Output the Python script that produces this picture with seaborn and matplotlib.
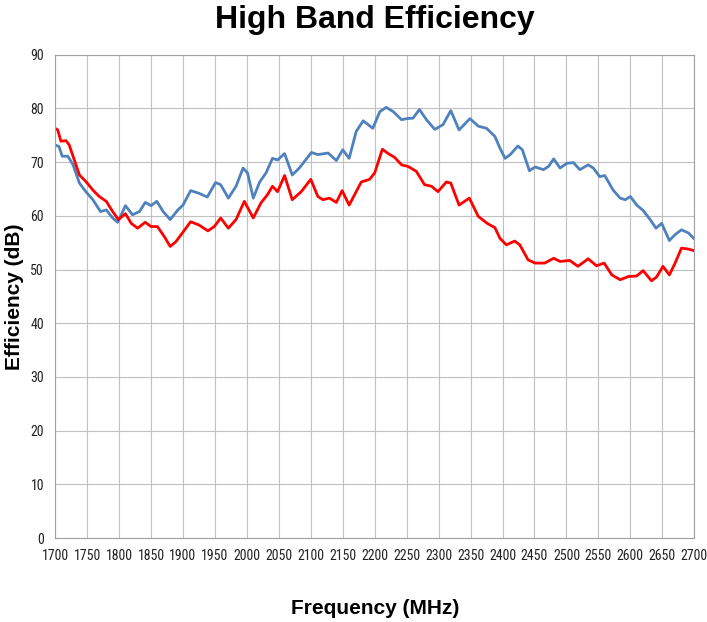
import matplotlib
matplotlib.use('Agg')
import matplotlib.pyplot as plt
from matplotlib import font_manager
import seaborn as sns
import pandas as pd

# values
freq_blue = [1700, 1706, 1711, 1720, 1728, 1738, 1748, 1759, 1771, 1780, 1790, 1798,
             1810, 1821, 1832, 1841, 1850, 1859, 1869, 1880, 1892, 1900, 1912, 1925,
             1938, 1951, 1959, 1971, 1983, 1994, 2001, 2010, 2020, 2030, 2040, 2048,
             2059, 2071, 2082, 2101, 2111, 2127, 2140, 2150, 2160, 2171, 2182, 2197,
             2208, 2218, 2229, 2242, 2250, 2260, 2270, 2281, 2294, 2307, 2319, 2332,
             2349, 2362, 2375, 2388, 2396, 2404, 2412, 2424, 2431, 2442, 2451, 2464,
             2472, 2480, 2490, 2501, 2511, 2521, 2534, 2542, 2552, 2560, 2573, 2584,
             2592, 2600, 2610, 2620, 2631, 2640, 2649, 2661, 2670, 2680, 2691, 2700]
eff_blue = [73.2, 72.9, 71.1, 71.1, 69.5, 66.1, 64.5, 63.0, 60.8, 61.1, 59.6, 58.8,
            61.9, 60.2, 60.8, 62.5, 61.9, 62.7, 60.8, 59.3, 61.1, 62.0, 64.7, 64.2,
            63.5, 66.2, 65.8, 63.3, 65.5, 68.9, 68.0, 63.3, 66.3, 68.0, 70.7, 70.4,
            71.6, 67.6, 68.9, 71.8, 71.4, 71.7, 70.3, 72.3, 70.7, 75.7, 77.7, 76.3,
            79.4, 80.2, 79.4, 77.9, 78.1, 78.2, 79.8, 77.9, 76.1, 77.0, 79.6, 76.0,
            78.1, 76.7, 76.3, 74.8, 72.6, 70.7, 71.4, 73.0, 72.3, 68.4, 69.1, 68.6,
            69.2, 70.6, 68.9, 69.8, 69.9, 68.6, 69.5, 68.9, 67.3, 67.5, 64.8, 63.3,
            63.0, 63.6, 62.0, 61.0, 59.3, 57.7, 58.6, 55.4, 56.5, 57.4, 56.8, 55.7]

freq_red = [1700, 1704, 1709, 1717, 1722, 1730, 1738, 1748, 1759, 1769,
            1780, 1790, 1799, 1810, 1819, 1829, 1841, 1850, 1860, 1871,
            1880, 1889, 1899, 1912, 1925, 1939, 1949, 1959, 1971, 1983,
            1996, 2010, 2022, 2032, 2040, 2048, 2059, 2071, 2085, 2100,
            2111, 2119, 2129, 2140, 2149, 2160, 2171, 2179, 2192, 2200,
            2212, 2221, 2231, 2242, 2252, 2265, 2278, 2289, 2299, 2312,
            2319, 2332, 2348, 2362, 2376, 2388, 2396, 2406, 2419, 2427,
            2440, 2451, 2466, 2480, 2490, 2505, 2518, 2534, 2547, 2559,
            2571, 2584, 2597, 2610, 2620, 2633, 2641, 2651, 2661, 2670,
            2680, 2691, 2700]
eff_red = [76.3, 76.0, 73.9, 74.0, 73.2, 70.4, 67.6, 66.4, 64.8, 63.6,
           62.7, 60.8, 59.3, 60.4, 58.6, 57.7, 58.8, 58.0, 58.0, 56.1,
           54.3, 55.2, 56.8, 58.9, 58.3, 57.2, 58.0, 59.6, 57.7, 59.3,
           62.7, 59.6, 62.4, 63.9, 65.5, 64.5, 67.5, 63.0, 64.5, 66.8,
           63.6, 63.0, 63.3, 62.5, 64.7, 62.0, 64.5, 66.3, 66.8, 68.0,
           72.4, 71.6, 70.9, 69.5, 69.2, 68.3, 65.8, 65.5, 64.5, 66.3,
           66.1, 62.0, 63.3, 59.9, 58.6, 57.8, 55.8, 54.6, 55.3, 54.6,
           51.8, 51.2, 51.2, 52.1, 51.5, 51.7, 50.6, 52.0, 50.7, 51.2,
           49.0, 48.1, 48.7, 48.8, 49.8, 47.9, 48.6, 50.6, 49.0, 51.2,
           54.0, 53.8, 53.5]

x_ticks = list(range(1700, 2701, 50))
y_ticks = list(range(0, 91, 10))

df = pd.concat([
    pd.DataFrame({'freq': freq_blue, 'eff': eff_blue, 'series': 'blue'}),
    pd.DataFrame({'freq': freq_red, 'eff': eff_red, 'series': 'red'}),
])

sns.set_style('white')
plt.rcParams['font.family'] = ['Liberation Sans', 'DejaVu Sans']

# narrow font for tick labels, like the original (pick whatever condensed face exists)
names = {f.name for f in font_manager.fontManager.ttflist}
tick_font, tick_size = 'Liberation Sans', 9
for cand in ['Liberation Sans Narrow', 'Arial Narrow', 'Roboto Condensed',
             'DejaVu Sans Condensed', 'Open Sans Condensed', 'Noto Sans Condensed']:
    if cand in names:
        tick_font, tick_size = cand, 10
        break

fig = plt.figure(figsize=(7.07, 6.22), dpi=100)
ax = fig.add_axes([0.078, 0.135, 0.904, 0.777])

sns.lineplot(data=df, x='freq', y='eff', hue='series',
             palette={'blue': '#4f81bd', 'red': '#ff0000'},
             linewidth=2.0, legend=False, ax=ax)

ax.set_xlim(1700, 2700)
ax.set_ylim(0, 90)
ax.set_xticks(x_ticks)
ax.set_yticks(y_ticks)
ax.grid(True, color='#c0c0c0', linewidth=0.8)
for s in ax.spines.values():
    s.set_color('#a0a0a0')
    s.set_linewidth(0.8)
ax.tick_params(axis='both', length=4, color='#a0a0a0', labelsize=tick_size,
               labelcolor='#222222', pad=4)
for lbl in ax.get_xticklabels() + ax.get_yticklabels():
    lbl.set_family(tick_font)

ax.set_xlabel('Frequency (MHz)', fontsize=15, fontweight='bold', color='black',
              va='center')
ax.set_ylabel('Efficiency (dB)', fontsize=15, fontweight='bold', color='black',
              va='center')
ax.xaxis.set_label_coords(0.5, -0.145)
ax.yaxis.set_label_coords(-0.063, 0.5)
fig.text(0.53, 0.968, 'High Band Efficiency', fontsize=23, fontweight='bold',
         color='black', ha='center', va='center')

fig.savefig('out.png', dpi=100)
